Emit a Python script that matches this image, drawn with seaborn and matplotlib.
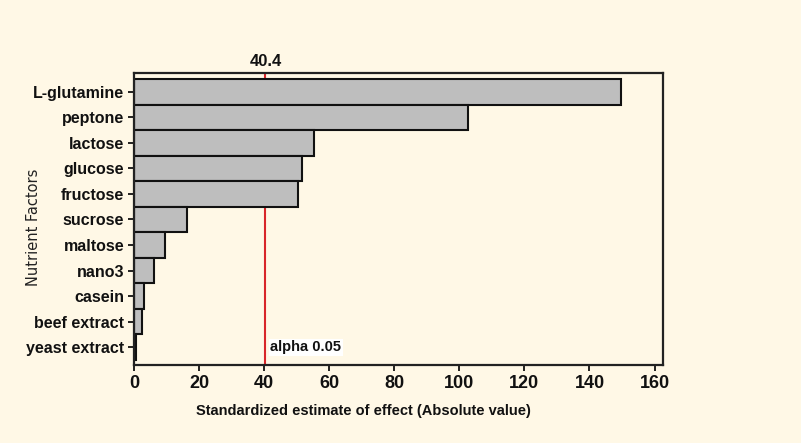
import matplotlib
matplotlib.use("Agg")
import matplotlib.pyplot as plt
import seaborn as sns
import pandas as pd

factors = ["L-glutamine", "peptone", "lactose", "glucose", "fructose", "sucrose",
           "maltose", "nano3", "casein", "beef extract", "yeast extract"]
effects = [149.8, 102.8, 55.4, 51.6, 50.4, 16.4, 9.5, 6.0, 3.2, 2.6, 0.6]
threshold = 40.4
xticks = [0, 20, 40, 60, 80, 100, 120, 140, 160]

df = pd.DataFrame({"factor": factors, "effect": effects})

sns.set_theme(style="white")
plt.rcParams["font.family"] = ["Liberation Sans", "DejaVu Sans"]

bg = "#FFF8E6"
fig = plt.figure(figsize=(8.01, 4.43), dpi=100, facecolor=bg)
ax = fig.add_axes([134 / 801, 1 - 365 / 443, (663 - 134) / 801, (365 - 73) / 443])
ax.set_facecolor(bg)

sns.barplot(data=df, x="effect", y="factor", orient="h", color="#BEBEBE",
            edgecolor="#111111", linewidth=1.5, width=1.0, saturation=1, ax=ax)

ax.axvline(threshold, color="#D8262A", linewidth=1.5, zorder=0.5)
ax.set_xlim(0, 162.6)
ax.set_ylim(10.5 + 0.2, -0.5 - 0.235)
ax.set_xticks(xticks)
ax.set_xticklabels([str(t) for t in xticks], fontsize=13, fontweight="bold", color="#111111")
ax.tick_params(axis="y", labelsize=11.5, labelcolor="#111111")
for lab in ax.get_yticklabels():
    lab.set_fontweight("bold")
ax.tick_params(axis="both", direction="out", length=4, width=1.3, color="#111111",
               bottom=True, left=True, pad=3)
for s in ax.spines.values():
    s.set_visible(True)
    s.set_color("#222222")
    s.set_linewidth(1.6)

ax.set_xlabel("Standardized estimate of effect (Absolute value)", fontsize=10.5,
              fontweight="bold", color="#111111")
ax.xaxis.set_label_coords(0.433, -0.135)
ax.set_ylabel("")
fig.text(33 / 801, 1 - 227 / 443, "Nutrient Factors", rotation=90, ha="center", va="center",
         fontsize=10.5, family=["DejaVu Sans"], color="#222222")

ax.text(threshold, 1.012, "40.4", transform=ax.get_xaxis_transform(), ha="center",
        va="bottom", fontsize=12, fontweight="bold", color="#111111")
ax.text(threshold + 1.5, 10.0, "alpha 0.05", ha="left", va="center", fontsize=10.5,
        fontweight="bold", color="#111111",
        bbox=dict(facecolor="white", edgecolor="none", pad=1.0))

fig.savefig("out.png", dpi=100, facecolor=bg)
